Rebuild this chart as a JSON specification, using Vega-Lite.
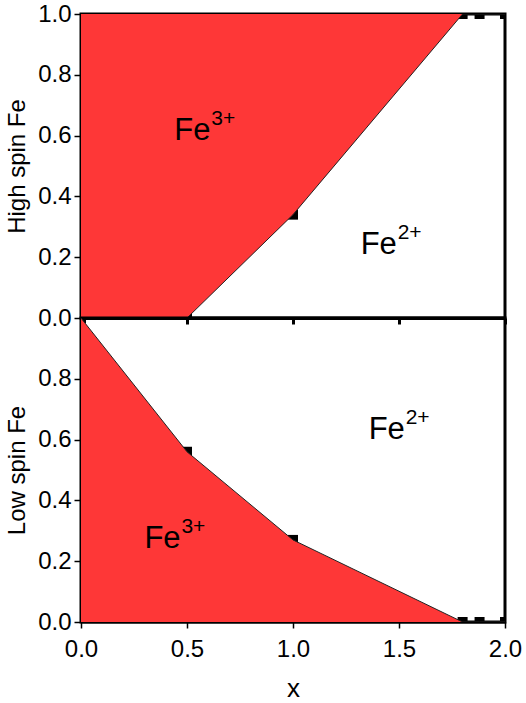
{
  "$schema": "https://vega.github.io/schema/vega-lite/v6.json",
  "background": "white",
  "padding": {"left": 4, "top": 0, "right": 18, "bottom": 2},
  "spacing": 0,
  "bounds": "flush",
  "config": {
    "font": "Liberation Sans",
    "view": {"stroke": "black", "strokeWidth": 3},
    "axis": {
      "labelFont": "Liberation Sans", "titleFont": "Liberation Sans",
      "labelFontSize": 24, "titleFontSize": 24,
      "labelColor": "black", "titleColor": "black", "titleFontWeight": "normal",
      "domainColor": "black", "tickColor": "black", "grid": false, "labelPadding": 3,
      "labelFlush": false
    }
  },
  "datasets": {
    "spin": [
      {"x": 0, "hs": 0, "ls": 1},
      {"x": 0.5, "hs": 0, "ls": 0.56},
      {"x": 1.0, "hs": 0.34, "ls": 0.27},
      {"x": 1.8, "hs": 1, "ls": 0},
      {"x": 1.88, "hs": 1, "ls": 0},
      {"x": 2.0, "hs": 1, "ls": 0}
    ],
    "labelsTop": [
      {"x": 0.44, "y": 0.585, "base": "Fe", "sup": "3+"},
      {"x": 1.319, "y": 0.212, "base": "Fe", "sup": "2+"}
    ],
    "labelsBottom": [
      {"x": 1.357, "y": 0.602, "base": "Fe", "sup": "2+"},
      {"x": 0.299, "y": 0.245, "base": "Fe", "sup": "3+"}
    ]
  },
  "vconcat": [
    {
      "width": 424, "height": 304,
      "layer": [
        {
          "data": {"name": "spin"},
          "mark": {"type": "square", "size": 100, "color": "black", "opacity": 1, "clip": true},
          "encoding": {
            "x": {"field": "x", "type": "quantitative", "scale": {"domain": [0, 2], "nice": false, "zero": false},
                  "axis": {"values": [0, 0.5, 1, 1.5, 2], "labels": false, "title": null, "domainWidth": 3, "tickWidth": 3, "tickSize": 6}},
            "y": {"field": "hs", "type": "quantitative", "scale": {"domain": [0, 1], "nice": false},
                  "axis": {"title": "High spin Fe", "values": [0, 0.2, 0.4, 0.6, 0.8, 1.0], "format": ".1f", "domainWidth": 3, "tickWidth": 1.5, "tickSize": 7, "titlePadding": 8}}
          }
        },
        {
          "data": {"name": "spin"},
          "mark": {"type": "area", "color": "#fe3737", "opacity": 1, "clip": true},
          "encoding": {
            "x": {"field": "x", "type": "quantitative"},
            "y": {"field": "hs", "type": "quantitative"},
            "y2": {"datum": 1}
          }
        },
        {
          "data": {"name": "spin"},
          "mark": {"type": "line", "color": "#222222", "strokeWidth": 1, "clip": true},
          "encoding": {
            "x": {"field": "x", "type": "quantitative"},
            "y": {"field": "hs", "type": "quantitative"}
          }
        },
        {
          "data": {"name": "labelsTop"},
          "mark": {"type": "text", "fontSize": 31, "align": "left", "baseline": "alphabetic", "color": "black"},
          "encoding": {
            "x": {"field": "x", "type": "quantitative"},
            "y": {"field": "y", "type": "quantitative"},
            "text": {"field": "base"}
          }
        },
        {
          "data": {"name": "labelsTop"},
          "mark": {"type": "text", "fontSize": 21, "align": "left", "baseline": "alphabetic", "dx": 37, "dy": -15, "color": "black"},
          "encoding": {
            "x": {"field": "x", "type": "quantitative"},
            "y": {"field": "y", "type": "quantitative"},
            "text": {"field": "sup"}
          }
        }
      ]
    },
    {
      "width": 424, "height": 304,
      "layer": [
        {
          "data": {"name": "spin"},
          "mark": {"type": "square", "size": 100, "color": "black", "opacity": 1, "clip": true},
          "encoding": {
            "x": {"field": "x", "type": "quantitative", "scale": {"domain": [0, 2], "nice": false, "zero": false},
                  "axis": {"title": "x", "titleFontSize": 26, "values": [0, 0.5, 1, 1.5, 2], "format": ".1f", "domainWidth": 2, "tickWidth": 1.5, "tickSize": 6, "labelPadding": 9, "titlePadding": 14}},
            "y": {"field": "ls", "type": "quantitative", "scale": {"domain": [0, 1], "nice": false},
                  "axis": {"title": "Low spin Fe", "values": [0, 0.2, 0.4, 0.6, 0.8], "format": ".1f", "domainWidth": 2, "tickWidth": 1.5, "tickSize": 7, "titlePadding": 8}}
          }
        },
        {
          "data": {"name": "spin"},
          "mark": {"type": "area", "color": "#fe3737", "opacity": 1, "clip": true},
          "encoding": {
            "x": {"field": "x", "type": "quantitative"},
            "y": {"field": "ls", "type": "quantitative"},
            "y2": {"datum": 0}
          }
        },
        {
          "data": {"name": "spin"},
          "mark": {"type": "line", "color": "#222222", "strokeWidth": 1, "clip": true},
          "encoding": {
            "x": {"field": "x", "type": "quantitative"},
            "y": {"field": "ls", "type": "quantitative"}
          }
        },
        {
          "data": {"name": "labelsBottom"},
          "mark": {"type": "text", "fontSize": 31, "align": "left", "baseline": "alphabetic", "color": "black"},
          "encoding": {
            "x": {"field": "x", "type": "quantitative"},
            "y": {"field": "y", "type": "quantitative"},
            "text": {"field": "base"}
          }
        },
        {
          "data": {"name": "labelsBottom"},
          "mark": {"type": "text", "fontSize": 21, "align": "left", "baseline": "alphabetic", "dx": 37, "dy": -15, "color": "black"},
          "encoding": {
            "x": {"field": "x", "type": "quantitative"},
            "y": {"field": "y", "type": "quantitative"},
            "text": {"field": "sup"}
          }
        }
      ]
    }
  ]
}
